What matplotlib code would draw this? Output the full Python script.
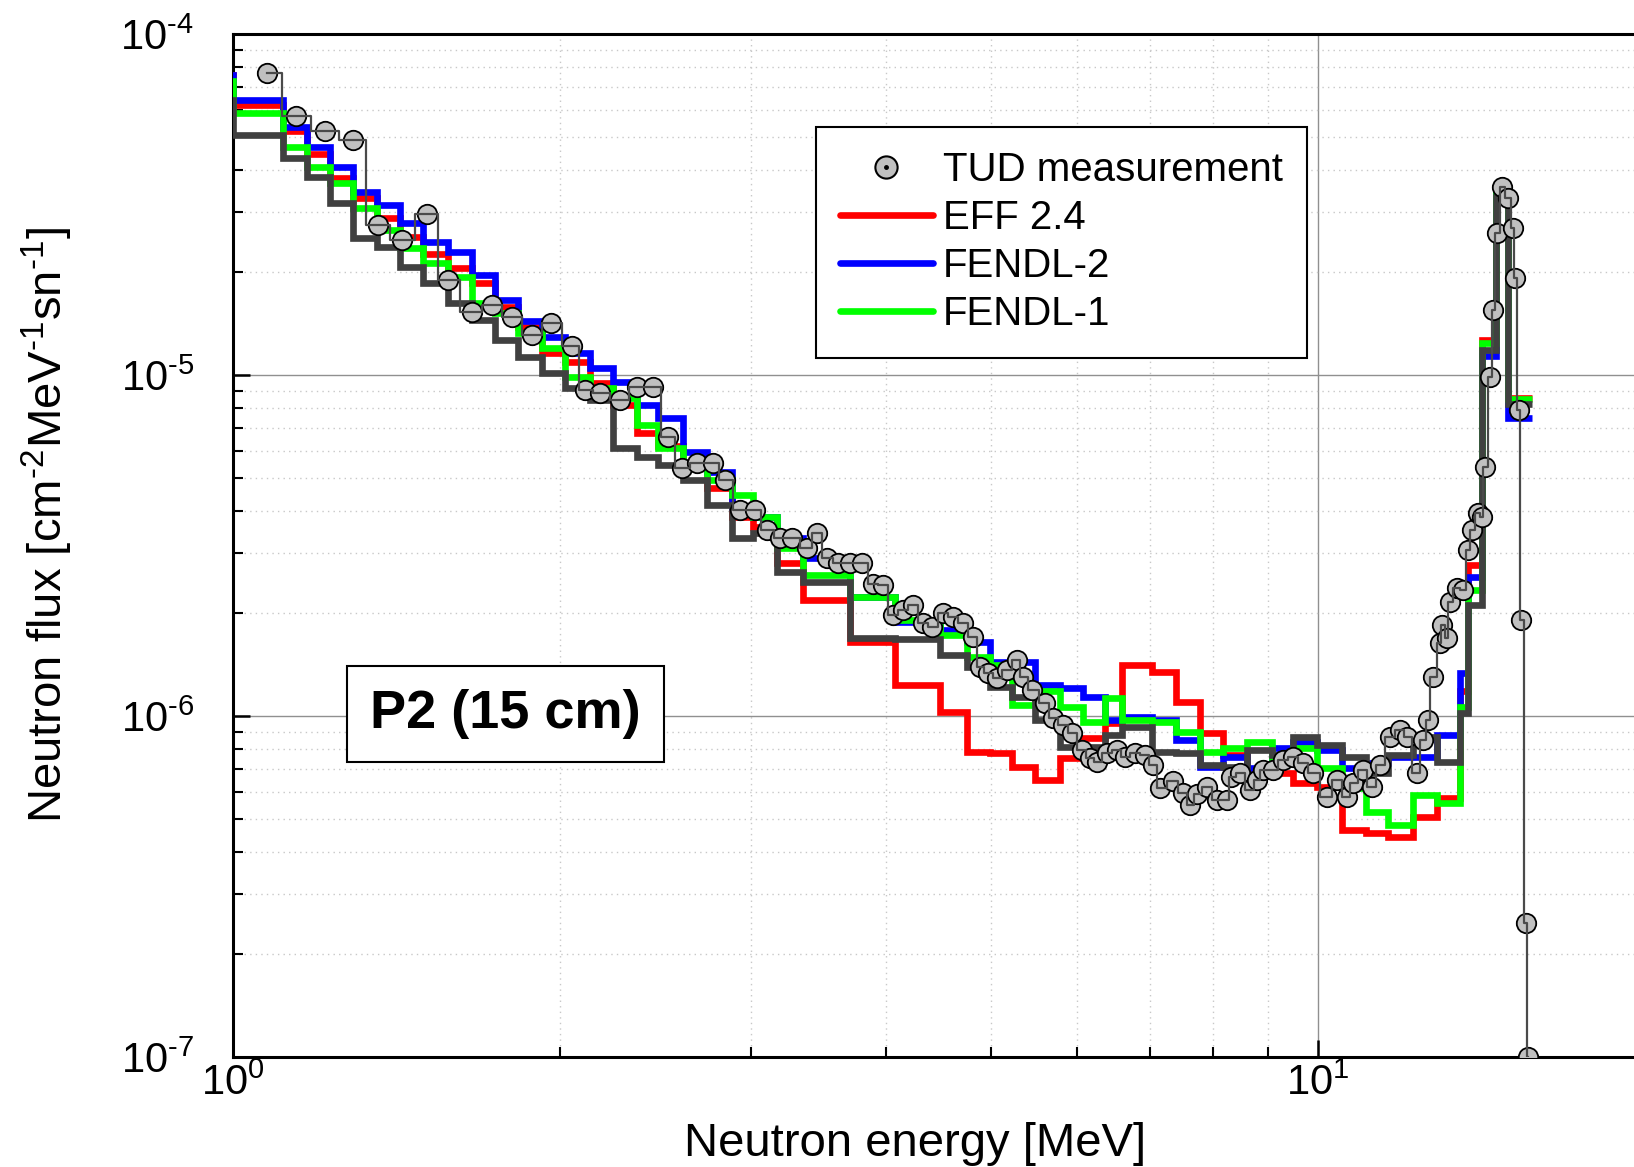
import matplotlib
matplotlib.use("Agg")
import matplotlib.pyplot as plt
from matplotlib.lines import Line2D
from matplotlib.legend_handler import HandlerTuple
from matplotlib.ticker import NullFormatter, FuncFormatter
import numpy as np

plt.rcParams['font.family'] = ['Liberation Sans', 'DejaVu Sans']
plt.rcParams['mathtext.default'] = 'regular'
plt.rcParams['axes.unicode_minus'] = False

HY = '\u2010'  # short hyphen for exponents, as in the original

# group structure of the calculated spectra [MeV]
edges = [0.97, 1.0, 1.112, 1.170, 1.228, 1.290, 1.358, 1.425, 1.497, 1.579,
         1.661, 1.744, 1.831, 1.927, 2.023, 2.133, 2.240, 2.357, 2.465, 2.598,
         2.734, 2.884, 3.015, 3.172, 3.352, 3.705, 4.075, 4.484, 4.748, 4.985,
         5.224, 5.485, 5.784, 6.073, 6.365, 6.599, 7.031, 7.398, 7.785, 8.175,
         8.602, 9.070, 9.484, 9.979, 10.52, 11.07, 11.60, 12.23, 12.87, 13.52,
         13.75, 14.16, 14.59, 14.97, 15.75]

eff24 = [7.6e-5, 6.2e-5, 5.2e-5, 4.45e-5, 3.78e-5, 3.30e-5, 2.89e-5, 2.54e-5, 2.26e-5, 2.06e-5,
         1.86e-5, 1.58e-5, 1.38e-5, 1.16e-5, 1.09e-5, 9.47e-6, 8.17e-6, 6.76e-6, 6.2e-6, 5.37e-6,
         4.66e-6, 3.83e-6, 3.58e-6, 2.81e-6, 2.19e-6, 1.65e-6, 1.23e-6, 1.03e-6, 7.84e-7, 7.79e-7,
         7.09e-7, 6.49e-7, 7.53e-7, 8.62e-7, 9.54e-7, 1.41e-6, 1.35e-6, 1.10e-6, 8.91e-7, 7.68e-7,
         6.81e-7, 6.81e-7, 6.36e-7, 6.19e-7, 4.63e-7, 4.54e-7, 4.42e-7, 5.06e-7, 5.75e-7, 1.18e-6,
         2.77e-6, 1.27e-5, 3.53e-5, 8.56e-6]

fendl2 = [7.6e-5, 6.40e-5, 5.34e-5, 4.66e-5, 4.07e-5, 3.44e-5, 3.15e-5, 2.79e-5, 2.45e-5, 2.29e-5,
          1.96e-5, 1.66e-5, 1.44e-5, 1.29e-5, 1.16e-5, 1.05e-5, 9.54e-6, 8.17e-6, 7.48e-6, 5.94e-6,
          5.19e-6, 4.10e-6, 3.83e-6, 3.33e-6, 2.91e-6, 2.23e-6, 1.89e-6, 1.79e-6, 1.65e-6, 1.44e-6,
          1.44e-6, 1.23e-6, 1.21e-6, 1.14e-6, 9.73e-7, 9.9e-7, 9.73e-7, 8.50e-7, 7.09e-7, 7.58e-7,
          7.04e-7, 8.05e-7, 8.39e-7, 7.95e-7, 7.04e-7, 7.28e-7, 7.58e-7, 7.58e-7, 8.80e-7, 1.34e-6,
          2.56e-6, 1.14e-5, 3.49e-5, 7.48e-6]

fendl1 = [7.3e-5, 5.87e-5, 4.66e-5, 4.07e-5, 3.66e-5, 3.09e-5, 2.66e-5, 2.36e-5, 2.13e-5, 1.94e-5,
          1.63e-5, 1.52e-5, 1.33e-5, 1.20e-5, 9.87e-6, 9.16e-6, 8.56e-6, 7.14e-6, 6.11e-6, 5.52e-6,
          4.92e-6, 4.45e-6, 3.83e-6, 3.11e-6, 2.59e-6, 2.23e-6, 1.91e-6, 1.73e-6, 1.49e-6, 1.41e-6,
          1.08e-6, 1.18e-6, 1.06e-6, 9.60e-7, 1.13e-6, 9.73e-7, 9.60e-7, 8.98e-7, 7.84e-7, 8.05e-7,
          8.39e-7, 7.53e-7, 8.05e-7, 7.04e-7, 6.15e-7, 5.23e-7, 4.79e-7, 5.86e-7, 5.56e-7, 1.06e-6,
          2.34e-6, 1.24e-5, 3.53e-5, 8.51e-6]

calc = [6.4e-5, 5.06e-5, 4.33e-5, 3.81e-5, 3.19e-5, 2.52e-5, 2.37e-5, 2.07e-5, 1.86e-5, 1.63e-5,
        1.45e-5, 1.27e-5, 1.13e-5, 1.01e-5, 9.16e-6, 8.45e-6, 6.11e-6, 5.75e-6, 5.45e-6, 4.92e-6,
        4.16e-6, 3.33e-6, 3.44e-6, 2.64e-6, 2.47e-6, 1.69e-6, 1.68e-6, 1.51e-6, 1.39e-6, 1.22e-6,
        1.14e-6, 9.73e-7, 8.11e-7, 8.11e-7, 8.80e-7, 9.28e-7, 7.84e-7, 7.79e-7, 7.18e-7, 7.09e-7,
        7.95e-7, 7.68e-7, 8.68e-7, 8.22e-7, 7.58e-7, 6.81e-7, 7.68e-7, 8.68e-7, 7.33e-7, 1.02e-6,
        2.12e-6, 1.18e-5, 3.33e-5, 8.22e-6]

# TUD measurement
e_meas = [1.075, 1.143, 1.216, 1.290, 1.360, 1.431, 1.509, 1.579, 1.661, 1.733,
          1.807, 1.887, 1.964, 2.053, 2.111, 2.179, 2.274, 2.357, 2.438, 2.517,
          2.593, 2.677, 2.769, 2.841, 2.933, 3.028, 3.106, 3.193, 3.275, 3.381,
          3.453, 3.527, 3.611, 3.704, 3.800, 3.890, 3.973, 4.058, 4.145, 4.234,
          4.325, 4.409, 4.513, 4.610, 4.709, 4.810, 4.882, 4.966, 5.061, 5.170,
          5.281, 5.349, 5.452, 5.605, 5.700, 5.822, 5.934, 6.062, 6.166, 6.258,
          6.393, 6.530, 6.641, 6.784, 6.929, 7.048, 7.153, 7.353, 7.511, 7.624,
          7.738, 7.904, 8.073, 8.246, 8.32, 8.477, 8.659, 8.788, 8.901, 9.092,
          9.287, 9.486, 9.687, 9.894, 10.19, 10.41, 10.63, 10.77, 11.00, 11.21,
          11.40, 11.65, 11.90, 12.08, 12.34, 12.50, 12.63, 12.76, 12.96, 13.01,
          13.15, 13.23, 13.43, 13.61, 13.75, 13.87, 14.04, 14.16, 14.25, 14.41,
          14.50, 14.63, 14.78, 14.97, 15.13, 15.19, 15.32, 15.40, 15.55, 15.62]

f_meas = [7.68e-5, 5.75e-5, 5.19e-5, 4.89e-5, 2.75e-5, 2.49e-5, 2.97e-5, 1.90e-5, 1.53e-5, 1.60e-5,
          1.48e-5, 1.31e-5, 1.42e-5, 1.22e-5, 9.04e-6, 8.86e-6, 8.45e-6, 9.22e-6, 9.22e-6, 6.58e-6,
          5.34e-6, 5.52e-6, 5.52e-6, 4.92e-6, 4.02e-6, 4.02e-6, 3.51e-6, 3.33e-6, 3.33e-6, 3.11e-6,
          3.44e-6, 2.91e-6, 2.81e-6, 2.81e-6, 2.81e-6, 2.44e-6, 2.42e-6, 1.98e-6, 2.05e-6, 2.12e-6,
          1.87e-6, 1.82e-6, 2.00e-6, 1.95e-6, 1.87e-6, 1.70e-6, 1.39e-6, 1.34e-6, 1.29e-6, 1.36e-6,
          1.46e-6, 1.30e-6, 1.19e-6, 1.09e-6, 9.87e-7, 9.41e-7, 8.91e-7, 7.95e-7, 7.53e-7, 7.33e-7,
          7.79e-7, 7.95e-7, 7.58e-7, 7.79e-7, 7.68e-7, 7.18e-7, 6.15e-7, 6.45e-7, 5.94e-7, 5.48e-7,
          5.90e-7, 6.19e-7, 5.67e-7, 5.67e-7, 6.62e-7, 6.81e-7, 6.07e-7, 6.49e-7, 6.94e-7, 6.94e-7,
          7.43e-7, 7.58e-7, 7.28e-7, 6.81e-7, 5.79e-7, 6.49e-7, 5.79e-7, 6.36e-7, 6.94e-7, 6.19e-7,
          7.18e-7, 8.68e-7, 9.10e-7, 8.68e-7, 6.81e-7, 8.50e-7, 9.73e-7, 1.30e-6, 1.64e-6, 1.85e-6,
          1.69e-6, 2.16e-6, 2.37e-6, 2.34e-6, 3.07e-6, 3.51e-6, 3.94e-6, 3.83e-6, 5.37e-6, 9.87e-6,
          1.55e-5, 2.61e-5, 3.56e-5, 3.30e-5, 2.70e-5, 1.93e-5, 7.89e-6, 1.91e-6, 2.47e-7, 1.0e-7]


def pow10(v, pos):
    n = int(round(np.log10(v)))
    s = str(n).replace('-', HY)
    return '10$^{' + s + '}$'


fig = plt.figure(figsize=(16.34, 11.67), dpi=100)
ax = fig.add_axes([0.1426, 0.0943, 0.8639, 0.8766])

lw_model = 4.8
ax.stairs(eff24, edges, baseline=None, color='#ff0000', lw=lw_model, zorder=3)
ax.stairs(fendl2, edges, baseline=None, color='#0000ff', lw=lw_model, zorder=3.1)
ax.stairs(fendl1, edges, baseline=None, color='#00ff00', lw=lw_model, zorder=3.2)
ax.stairs(calc, edges, baseline=None, color='#404040', lw=lw_model, zorder=3.3)

ax.plot(e_meas, f_meas, 'o', ms=14, mfc='#c0c0c0', mec='black', mew=1.3, zorder=5)
ax.step(e_meas, f_meas, where='mid', color='#4a4a4a', lw=1.6, zorder=6)

ax.set_xscale('log')
ax.set_yscale('log')
ax.set_xlim(1, 20)
ax.set_ylim(1e-7, 1e-4)
ax.xaxis.set_major_formatter(FuncFormatter(pow10))
ax.yaxis.set_major_formatter(FuncFormatter(pow10))
ax.xaxis.set_minor_formatter(NullFormatter())
ax.yaxis.set_minor_formatter(NullFormatter())

ax.set_axisbelow(True)
ax.grid(True, which='major', color='#909090', lw=1.0, ls='-')
ax.grid(True, which='minor', color='#c8c8c8', lw=1.0, ls=(0, (1, 3)))

ax.tick_params(which='major', direction='in', length=12, width=1.8, labelsize=30)
ax.tick_params(which='minor', direction='in', length=7, width=1.5)
ax.tick_params(axis='y', which='major', pad=28)
ax.tick_params(axis='x', which='major', pad=5)
for s in ['left', 'bottom', 'top']:
    ax.spines[s].set_linewidth(2.2)
ax.spines['right'].set_visible(False)

ax.set_xlabel('Neutron energy [MeV]', fontsize=34)
ax.set_ylabel('Neutron flux [cm$^{' + HY + '2}$MeV$^{' + HY + '1}$sn$^{' + HY + '1}$]', fontsize=34)
ax.xaxis.set_label_coords(0.483, -0.064)
ax.yaxis.set_label_coords(-0.112, 0.52)

ax.text(0.193, 0.335, 'P2 (15 cm)', transform=ax.transAxes, ha='center', va='center',
        fontsize=39, fontweight='bold', zorder=7,
        bbox=dict(boxstyle='square,pad=0.42', fc='white', ec='black', lw=1.5))

h_meas = (Line2D([], [], ls='none', marker='o', ms=16, mfc='#c0c0c0', mec='black', mew=1.5),
          Line2D([], [], ls='none', marker='o', ms=2.5, color='black'))
h_red = Line2D([], [], color='#ff0000', lw=4.8, solid_capstyle='round')
h_blue = Line2D([], [], color='#0000ff', lw=4.8, solid_capstyle='round')
h_green = Line2D([], [], color='#00ff00', lw=4.8, solid_capstyle='round')
leg = ax.legend([h_meas, h_red, h_blue, h_green],
                ['TUD measurement', 'EFF 2.4', 'FENDL-2', 'FENDL-1'],
                handler_map={tuple: HandlerTuple(ndivide=1, pad=0)},
                loc='upper left', bbox_to_anchor=(0.413, 0.909), borderaxespad=0,
                fontsize=29, fancybox=False, edgecolor='black', framealpha=1,
                handlelength=2.3, handletextpad=0.25, labelspacing=0.25, borderpad=0.6)
leg.get_frame().set_linewidth(1.5)
leg.set_zorder(10)

fig.savefig('out.png', dpi=100)
